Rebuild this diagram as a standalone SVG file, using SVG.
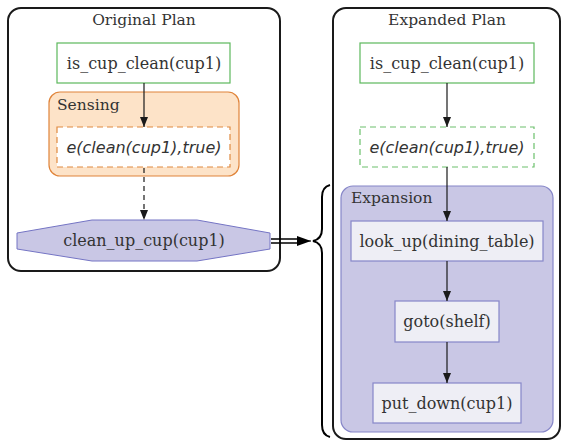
<svg xmlns="http://www.w3.org/2000/svg" width="561" height="440" viewBox="0 0 561 440">
<defs>
<style>
text{font-family:"DejaVu Serif",serif;font-size:16px;fill:#333}
.lbl{font-size:15.5px}
.c{text-anchor:middle}
.it{font-family:"DejaVu Sans",sans-serif;font-style:italic}
.plan{fill:#fff;stroke:#1a1a1a;stroke-width:2}
.green{fill:#fff;stroke:#5cb85c;stroke-width:1.2}
.gdash{fill:#fff;stroke:#6cc06c;stroke-width:1.2;stroke-dasharray:6,4}
.odash{fill:#fff;stroke:#e08a40;stroke-width:1.2;stroke-dasharray:6,4}
.sens{fill:#fde3c8;stroke:#e0843a;stroke-width:1.2}
.exp{fill:#c9c7e5;stroke:#8686c8;stroke-width:1.2}
.act{fill:#eeeef5;stroke:#8686c8;stroke-width:1.2}
.edge{stroke:#1a1a1a;stroke-width:1.2;fill:none}
</style>
<marker id="ah" viewBox="0 0 10 10" refX="10" refY="5" markerWidth="10" markerHeight="10" markerUnits="userSpaceOnUse" orient="auto">
<path d="M0,1 L10,5 L0,9 z" fill="#1a1a1a"/>
</marker>
<marker id="ah2" viewBox="0 0 14 10" refX="14" refY="5" markerWidth="14" markerHeight="10" markerUnits="userSpaceOnUse" orient="auto">
<path d="M0,0 L14,5 L0,10 z" fill="#000"/>
</marker>
</defs>

<g id="original-plan">
<rect class="plan" x="8" y="8" width="272" height="263" rx="13"/>
<text class="c lbl" x="144" y="25">Original Plan</text>
</g>
<g id="expanded-plan">
<rect class="plan" x="333" y="8" width="227" height="431" rx="13"/>
<text class="c lbl" x="447" y="25">Expanded Plan</text>
</g>

<g id="sensing">
<rect class="sens" x="49" y="92" width="190" height="84" rx="11"/>
<text class="lbl" x="57" y="110">Sensing</text>
</g>
<g id="expansion">
<rect class="exp" x="341" y="186" width="212" height="246" rx="12"/>
<text class="lbl" x="351" y="203">Expansion</text>
</g>

<g id="o-is-cup-clean">
<rect class="green" x="57" y="43" width="173" height="40"/>
<text class="c" x="144" y="69">is_cup_clean(cup1)</text>
</g>
<g id="o-e-clean">
<rect class="odash" x="57" y="127" width="173" height="40"/>
<text class="c it" x="144" y="153">e(clean(cup1),true)</text>
</g>
<g id="clean-up-cup">
<polygon points="92,220 197,220 270,233 270,249 197,261 92,261 17,249 17,233" fill="#c9c7e5" stroke="#7474c4" stroke-width="1"/>
<text class="c" x="144" y="246">clean_up_cup(cup1)</text>
</g>

<g id="x-is-cup-clean">
<rect class="green" x="360" y="43" width="174" height="40"/>
<text class="c" x="447" y="69">is_cup_clean(cup1)</text>
</g>
<g id="x-e-clean">
<rect class="gdash" x="360" y="127" width="174" height="40"/>
<text class="c it" x="447" y="153">e(clean(cup1),true)</text>
</g>
<g id="look-up">
<rect class="act" x="351" y="221" width="192" height="40"/>
<text class="c" x="447" y="247">look_up(dining_table)</text>
</g>
<g id="goto">
<rect class="act" x="395" y="301" width="104" height="41"/>
<text class="c" x="447" y="327">goto(shelf)</text>
</g>
<g id="put-down">
<rect class="act" x="373" y="383" width="148" height="40"/>
<text class="c" x="447" y="409">put_down(cup1)</text>
</g>

<g id="connectors">
<line class="edge" x1="144" y1="83" x2="144" y2="127" marker-end="url(#ah)"/>
<line class="edge" x1="144" y1="168" x2="144" y2="220" stroke-dasharray="5,4" marker-end="url(#ah)"/>
<line class="edge" x1="447" y1="83" x2="447" y2="127" marker-end="url(#ah)"/>
<line class="edge" x1="447" y1="167" x2="447" y2="221" marker-end="url(#ah)"/>
<line class="edge" x1="447" y1="261" x2="447" y2="301" marker-end="url(#ah)"/>
<line class="edge" x1="447" y1="342" x2="447" y2="383" marker-end="url(#ah)"/>
<path d="M271,239 H299 M271,243 H299" stroke="#000" stroke-width="1.6" fill="none"/>
<line x1="298" y1="241" x2="311" y2="241" stroke="#000" stroke-width="1" marker-end="url(#ah2)"/>
<path d="M330,185 Q322,187 322,197 V229 Q322,239 313,241 Q322,243 322,253 V425 Q322,435 330,437" stroke="#000" stroke-width="2" fill="none"/>
</g>
</svg>
